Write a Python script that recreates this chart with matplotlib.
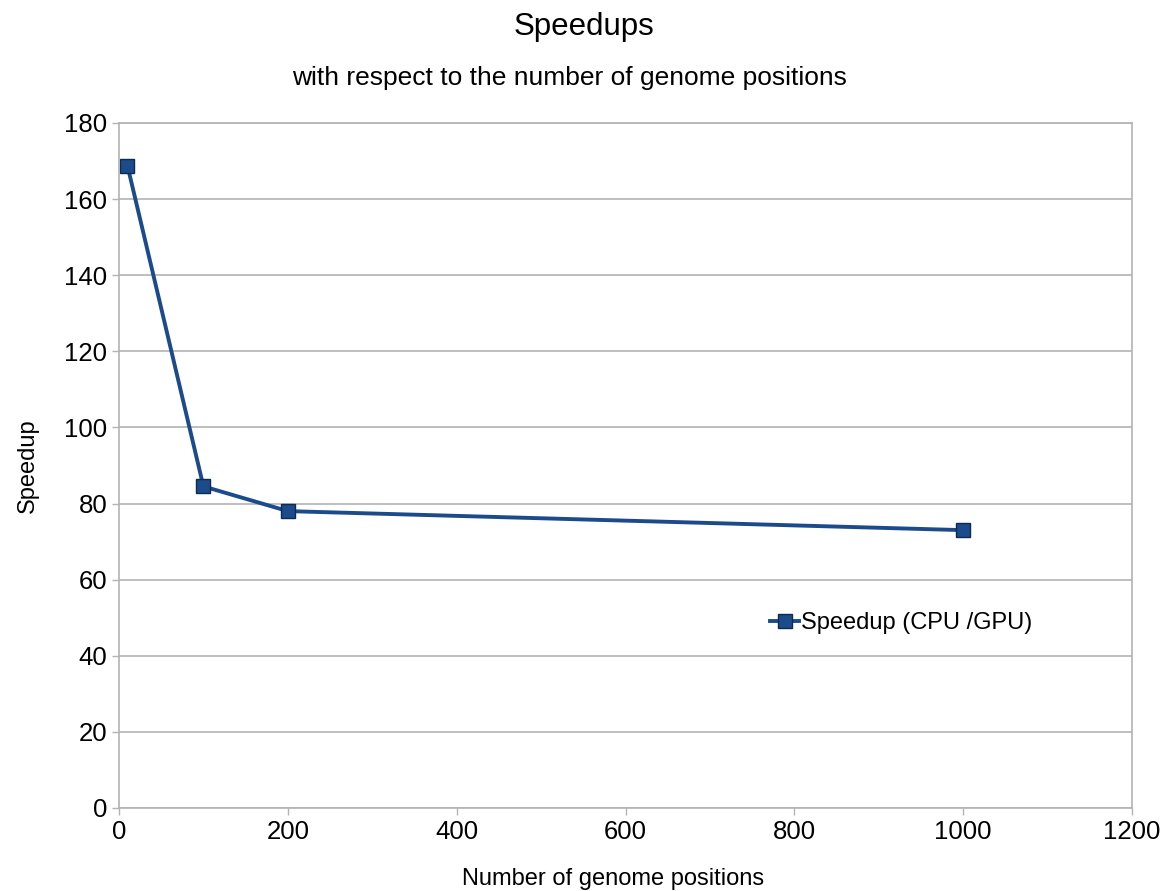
import matplotlib.pyplot as plt

positions = [10, 100, 200, 1000]
speedups = [168.8, 84.5, 78.0, 73.0]
x_ticks = [0, 200, 400, 600, 800, 1000, 1200]
y_ticks = [0, 20, 40, 60, 80, 100, 120, 140, 160, 180]

plt.rcParams['font.family'] = ['Liberation Sans', 'DejaVu Sans']

fig = plt.figure(figsize=(11.62, 8.91), dpi=100)
ax = fig.add_axes([0.1024, 0.0932, 0.8718, 0.7688])

ax.plot(positions, speedups, color='#1c4b8c', lw=2.8, marker='s', ms=10,
        markerfacecolor='#1c4b8c', markeredgecolor='#0e2a50', markeredgewidth=1,
        label='Speedup (CPU /GPU)')

ax.set_xlim(0, 1200)
ax.set_ylim(0, 180)
ax.set_xticks(x_ticks)
ax.set_yticks(y_ticks)
ax.grid(axis='y', color='#b3b3b3', lw=1.2)
ax.set_axisbelow(True)
for s in ax.spines.values():
    s.set_color('#b3b3b3')
    s.set_linewidth(1.2)
ax.tick_params(colors='#b3b3b3', labelcolor='black', labelsize=18.5, length=5, width=1)

ax.set_xlabel('Number of genome positions', fontsize=17)
ax.set_ylabel('Speedup', fontsize=17)
ax.xaxis.set_label_coords(0.488, -0.103)
ax.yaxis.set_label_coords(-0.09, 0.5)
ax.xaxis.label.set_va('center')
ax.yaxis.label.set_va('center')

fig.text(0.503, 0.97, 'Speedups', ha='center', va='center', fontsize=22.5)
fig.text(0.49, 0.913, 'with respect to the number of genome positions', ha='center', va='center', fontsize=19)

ax.legend(loc='center left', bbox_to_anchor=(0.622, 0.27), frameon=False, fontsize=17,
          handlelength=1.2, handletextpad=0.1)

fig.savefig('out.png', dpi=100)
